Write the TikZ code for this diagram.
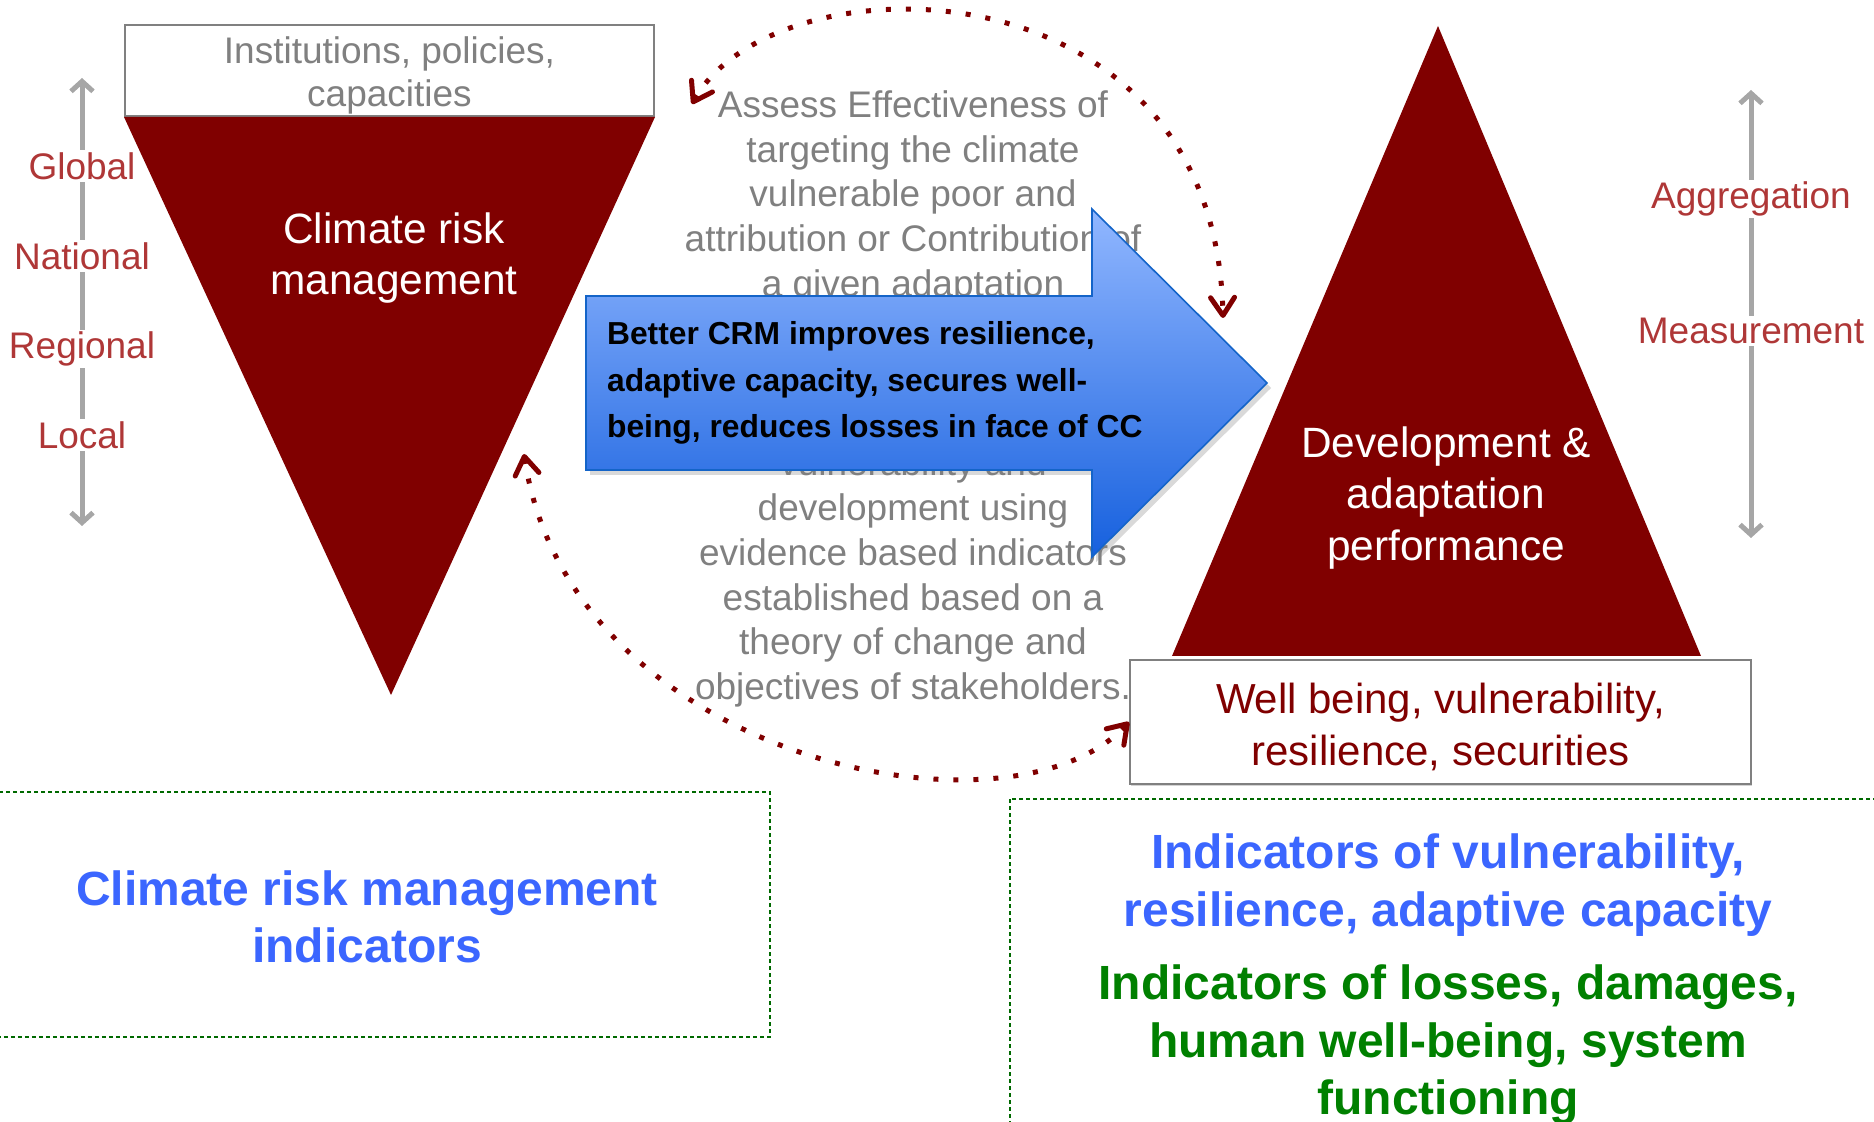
\documentclass[tikz,border=0pt]{standalone}
\usepackage{fontspec}
\setmainfont{Liberation Sans}
\usetikzlibrary{positioning,arrows.meta,shadows}

\definecolor{maroon}{RGB}{128,0,0}
\definecolor{scalered}{RGB}{175,55,55}
\definecolor{txtgray}{RGB}{128,128,128}
\definecolor{axisgray}{RGB}{166,166,166}
\definecolor{arrowtop}{RGB}{145,183,255}
\definecolor{arrowbot}{RGB}{22,96,222}
\definecolor{arrowedge}{RGB}{20,100,200}
\definecolor{indblue}{RGB}{59,102,255}
\definecolor{indgreen}{RGB}{0,128,0}
\definecolor{boxgreen}{RGB}{0,105,0}

\tikzset{
  scaleaxis/.style={draw=axisgray,line width=2.5pt,{Straight Barb[length=5pt,width=11pt]}-{Straight Barb[length=5pt,width=11pt]}},
  lvl/.style={text=scalered,fill=white,inner sep=1pt,font=\fontsize{18.5}{22}\selectfont},
  feedback/.style={draw=maroon,line width=2.5pt,dash pattern=on 2.5pt off 7.5pt,{Straight Barb[length=9pt,width=12pt,round]}-{Straight Barb[length=9pt,width=12pt,round]}},
  capbox/.style={draw=txtgray,line width=1pt,fill=white,align=center,inner sep=0pt},
  indbox/.style={draw=boxgreen,line width=0.9pt,dash pattern=on 2.2pt off 1.3pt},
  indtext/.style={align=center,font=\bfseries\fontsize{24}{28.7}\selectfont}
}

\begin{document}
\begin{tikzpicture}[x=0.5pt,y=-0.5pt]
\useasboundingbox (0,0) rectangle (1874,1122);

% the two triangles and their boxes
\node[capbox,minimum width=264.5pt,minimum height=45.5pt,text=txtgray,font=\fontsize{18.5}{21.5}\selectfont] (inst) at (389.5,70.5) {};
\node[text=txtgray,align=center,font=\fontsize{18.5}{21.5}\selectfont] (insttext) at (389.5,75) {Institutions, policies,\\capacities};
\fill[maroon] (inst.south west) -- (inst.south east) -- (391,695) -- cycle;
\fill[maroon] (1438,26) -- (1701,656) -- (1172,656) -- cycle;
\node[capbox,minimum width=310.5pt,minimum height=62pt,drop shadow={shadow xshift=0.6pt,shadow yshift=-0.8pt,opacity=0.35}] (wellbeing) at (1440.5,722) {};
\node[text=maroon,align=center,font=\fontsize{21}{25.7}\selectfont] (wbtext) at (1440.5,727) {Well being, vulnerability,\\resilience, securities};
\node[white,align=center,font=\fontsize{21.2}{25.7}\selectfont] (crm) at (394,258) {Climate risk\\management};
\node[white,align=center,font=\fontsize{21.2}{25.7}\selectfont] (devperf) at (1446,498) {Development \&\\adaptation\\performance};

% scales on both sides
\coordinate (ltop) at (82,78);
\coordinate (lbot) at (82,526);
\draw[scaleaxis] (ltop) -- (lbot);
\node[lvl] (global) at (82,166) {Global};
\node[lvl] (national) at (82,256) {National};
\node[lvl] (regional) at (82,349) {Regional};
\node[lvl] (local) at (82,435) {Local};
\coordinate (rtop) at (1751,90);
\coordinate (rbot) at (1751,538);
\draw[scaleaxis] (rtop) -- (rbot);
\node[lvl] (aggr) at (1751,199) {Aggregation};
\node[lvl] (meas) at (1751,331) {Measurement};

% assessment text, partly under the arrow
\node[text=txtgray,align=center,font=\fontsize{18.5}{22.4}\selectfont] (assess) at (913,399)
  {Assess Effectiveness of\\targeting the climate\\vulnerable poor and\\attribution or Contribution of\\a given adaptation\\\mbox{}\\\mbox{}\\\mbox{}\\vulnerability and\\development using\\evidence based indicators\\established based on a\\theory of change and\\objectives of stakeholders.};

\path[draw=arrowedge,line width=0.8pt,top color=arrowtop,bottom color=arrowbot,
  drop shadow={shadow xshift=2pt,shadow yshift=-2.5pt,opacity=0.3}]
  (586,296) -- (1092,296) -- (1092,209) -- (1267,383) -- (1092,557) -- (1092,470) -- (586,470) -- cycle;
\node[anchor=west,align=left,font=\bfseries\fontsize{15.9}{23.3}\selectfont] (better) at (600,383)
  {Better CRM improves resilience,\\adaptive capacity, secures well-\\being, reduces losses in face of CC};

% feedback loops
\coordinate (ta) at (692,104);
\coordinate (tb) at (1223,318);
\coordinate (ba) at (524,454);
\coordinate (bb) at (1129,722);
\draw[feedback] (ta) .. controls (775,-45) and (1215,-45) .. (tb);
\draw[feedback] (ba) .. controls (570,760) and (1010,850) .. (bb);

% indicator boxes
\draw[indbox] (-10,792) rectangle (770,1037);
\draw[indbox] (1010,799) rectangle (1890,1140);
\node[indtext,text=indblue] (crmind) at (367,917) {Climate risk management\\indicators};
\node[indtext,text=indblue] (vulind) at (1448,885) {Indicators of vulnerability,\\resilience, adaptive capacity};
\node[indtext,text=indgreen] (lossind) at (1448,1045) {Indicators of losses, damages,\\human well-being, system\\functioning};
\end{tikzpicture}
\end{document}
